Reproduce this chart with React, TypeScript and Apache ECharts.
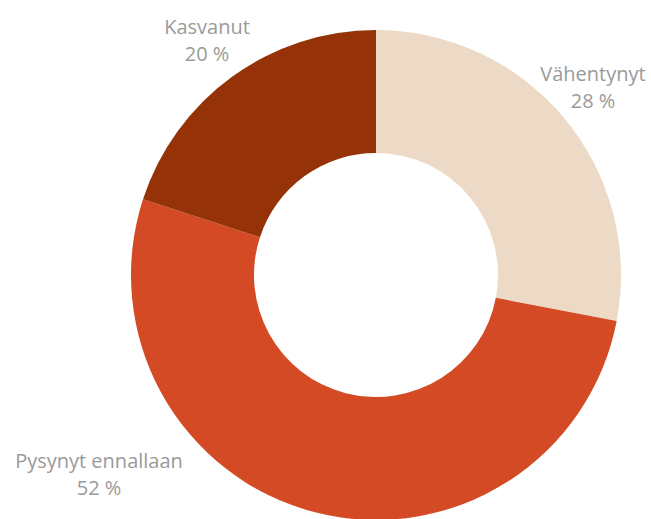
import React, { useEffect, useRef } from "react";
import * as echarts from "echarts";

const categories = ["Vähentynyt", "Pysynyt ennallaan", "Kasvanut"];
const values = [28, 52, 20];
const colors = ["#EDDAC6", "#D34A24", "#953208"];
const labelPositions = [
  [593, 87],
  [99, 474],
  [207, 40],
];

export default function App() {
  const ref = useRef<HTMLDivElement>(null);
  useEffect(() => {
    const chart = echarts.init(ref.current!, null, { renderer: "svg" });
    chart.setOption({
      animation: false,
      series: [
        {
          type: "pie",
          center: [376, 275],
          radius: [122, 245],
          startAngle: 90,
          clockwise: true,
          data: categories.map((c, i) => ({
            name: c,
            value: values[i],
            itemStyle: { color: colors[i] },
          })),
          label: {
            show: true,
            position: "outside",
            formatter: (p: any) => `${p.name}\n${p.value} %`,
            color: "#9A9A9A",
            fontFamily: "Open Sans",
            fontSize: 20,
            lineHeight: 27,
            align: "center",
            overflow: "none",
            width: 300,
          },
          labelLine: { show: false },
          labelLayout: (p: any) => ({
            x: labelPositions[p.dataIndex][0],
            y: labelPositions[p.dataIndex][1],
            align: "center",
            verticalAlign: "middle",
          }),
        },
      ],
    });
    return () => chart.dispose();
  }, []);
  return (
    <div
      ref={ref}
      style={{ position: "fixed", left: 0, top: 0, width: 651, height: 519, background: "#fff" }}
    />
  );
}
